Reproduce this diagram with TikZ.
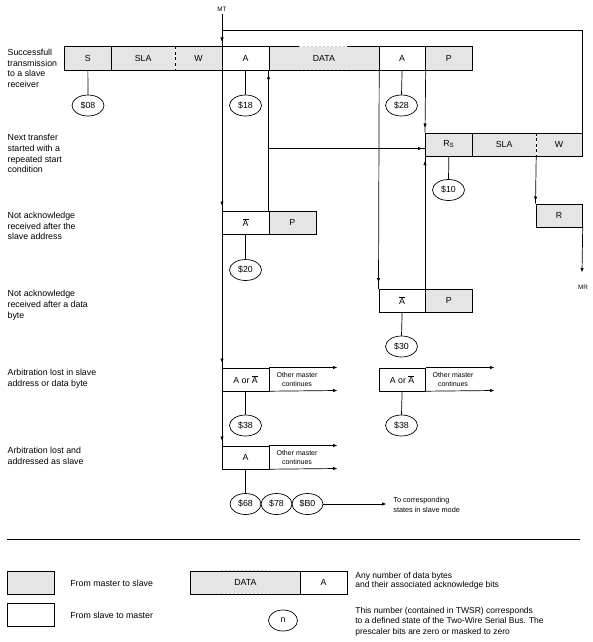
\documentclass[tikz,border=0pt]{standalone}
\usepackage{fontspec}
\setmainfont{Liberation Sans}
\usetikzlibrary{arrows.meta,decorations.markings,shapes.geometric}
\definecolor{mgray}{gray}{0.9}
\newcommand{\nA}{\ensuremath{\overline{\hbox{A}}}}
\begin{document}
\begin{tikzpicture}[x=1pt,y=-1pt,line width=0.7pt,
  cell/.style={draw, minimum height=23pt, inner sep=0pt, anchor=north west, font=\fontsize{8.8}{10}\selectfont},
  mcell/.style={cell, fill=mgray},
  st/.style={draw, ellipse, minimum width=32pt, minimum height=21pt, inner sep=0pt, font=\fontsize{8.8}{10}\selectfont},
  lbl/.style={anchor=north west, align=left, inner sep=0pt, font=\fontsize{8.8}{10.7}\selectfont},
  sm/.style={align=center, inner sep=0pt, font=\fontsize{7}{9}\selectfont},
  tiny/.style={inner sep=0pt, font=\fontsize{6.3}{7}\selectfont},
  arr/.style={-{Triangle[length=4pt,width=3pt]}},
  arrowat/.style={postaction={decorate}, decoration={markings, mark=at position #1 with {\arrow{Triangle[length=4pt,width=3pt]}}}},
  gapline/.style={white, line width=1.4pt},
  gapdash/.style={gray!40, line width=1pt, dash pattern=on 2pt off 2pt},
  divwhite/.style={white, line width=1.4pt},
  divdash/.style={dash pattern=on 3pt off 2.5pt}
]
\useasboundingbox (0,0) rectangle (593,642);

% left labels
\node[lbl] (l1) at (7.3,48.7) {Successfull\\transmission\\to a slave\\receiver};
\node[lbl] (l2) at (7.3,134) {Next transfer\\started with a\\repeated start\\condition};
\node[lbl] (l3) at (7.3,211.8) {Not acknowledge\\received after the\\slave address};
\node[lbl] (l4) at (7.3,290) {Not acknowledge\\received after a data\\byte};
\node[lbl] (l5) at (7.3,369) {Arbitration lost in slave\\address or data byte};
\node[lbl] (l6) at (7.3,446.8) {Arbitration lost and\\addressed as slave};

% row 1
\node[mcell, minimum width=47pt] (S) at (64,46.5) {S};
\node[mcell, minimum width=63.5pt] (SLA) at (111,46.5) {SLA};
\node[mcell, minimum width=47.5pt] (W) at (174.5,46.5) {W};
\node[cell, minimum width=46.5pt] (A1) at (222,46.5) {A};
\node[mcell, minimum width=110pt] (DATA) at (268.5,46.5) {DATA};
\node[cell, minimum width=46.5pt] (A2) at (378.5,46.5) {A};
\node[mcell, minimum width=47pt] (P1) at (425,46.5) {P};
\draw[divwhite] (SLA.north east) -- (SLA.south east);
\draw[divdash] (SLA.north east) -- (SLA.south east);
\coordinate (dg1) at (299,46.5); \coordinate (dg2) at (347,46.5);
\coordinate (dg3) at (299,69.5); \coordinate (dg4) at (347,69.5);
\draw[gapline] (dg1) -- (dg2); \draw[gapdash] (dg1) -- (dg2);
\draw[gapline] (dg3) -- (dg4); \draw[gapdash] (dg3) -- (dg4);

% repeated start row
\node[mcell, minimum width=47pt] (RS) at (425,132.5) {R\textsubscript{S}};
\node[mcell, minimum width=63.5pt] (SLA2) at (472,132.5) {SLA};
\node[mcell, minimum width=46.5pt] (W2) at (535.5,132.5) {W};
\draw[divwhite] (SLA2.north east) -- (SLA2.south east);
\draw[divdash] (SLA2.north east) -- (SLA2.south east);
\node[mcell, minimum width=46.5pt] (R) at (535.5,203.5) {R};

% not acknowledge rows
\node[cell, minimum width=46.5pt] (Ab1) at (222,210.5) {\nA};
\node[mcell, minimum width=47pt] (P2) at (268.5,210.5) {P};
\node[cell, minimum width=46.5pt] (Abd) at (378.5,289) {\nA};
\node[mcell, minimum width=47pt] (Pd) at (425,289) {P};

% arbitration rows
\node[cell, minimum width=46.5pt] (Arb1) at (222,367.5) {A or \nA};
\node[sm] (om1) at (297,379) {Other master\\continues};
\node[cell, minimum width=46.5pt] (Arb2) at (378.5,367.5) {A or \nA};
\node[sm] (om2) at (453,379) {Other master\\continues};
\node[cell, minimum width=46.5pt] (Arb3) at (222,445.5) {A};
\node[sm] (om3) at (297,457) {Other master\\continues};

% states
\node[st] (s08) at (88,105.5) {\$08};
\node[st] (s18) at (245.5,105.5) {\$18};
\node[st] (s28) at (401.5,105.5) {\$28};
\node[st] (s10) at (448.5,190) {\$10};
\node[st] (s20) at (245.5,270) {\$20};
\node[st] (s30) at (401.5,346.5) {\$30};
\node[st] (s38) at (245.5,425.5) {\$38};
\node[st] (s38b) at (401.5,425.5) {\$38};
\node[st, minimum width=31pt] (s68) at (245.5,504) {\$68};
\node[st, minimum width=31pt] (s78) at (276.5,504) {\$78};
\node[st, minimum width=31pt] (sB0) at (307.5,504) {\$B0};

% MT / MR
\node[tiny, inner sep=2pt] (MT) at (222,9.5) {MT};
\node[tiny] (MR) at (583,287.5) {MR};

% connectors
\coordinate (j1) at (222,30);
\draw[arrowat=-5pt] (MT.south) -- (A1.north west);
\draw (j1) -| (W2.north east);
\draw[arrowat=-5pt] (A1.south west) -- (Ab1.north west);
\draw[arrowat=-5pt] (Ab1.south west) -- (Arb1.north west);
\draw[arrowat=-5pt] (Arb1.south west) -- (Arb3.north west);
\draw[arrowat=-5pt] (P2.north west) -- (DATA.south west);
\coordinate (j2) at (268.5,148.5);
\coordinate (rsin) at (425,148.5);
\draw[arrowat=-3pt] (j2) -- (rsin);
\draw[arrowat=-5pt] (A2.south east) -- (RS.north west);
\draw[arrowat=-5pt] (Pd.north west) -- (RS.south west);
\draw[arrowat=-7pt] (DATA.south east) -- (Abd.north west);
\draw[arrowat=-3pt] (SLA2.south east) -- (R.north west);
\coordinate (mr) at (582,272);
\draw[arr] (R.south east) -- (mr);

\draw (S.south) -- (s08.north);
\draw (A1.south) -- (s18.north);
\draw (A2.south) -- (s28.north);
\draw (RS.south) -- (s10.north);
\draw (Ab1.south) -- (s20.north);
\draw (Abd.south) -- (s30.north);
\draw (Arb1.south) -- (s38.north);
\draw (Arb2.south) -- (s38b.north);
\draw (Arb3.south) -- (s68.north);

\coordinate (a1t) at (337,367.5); \coordinate (a1b) at (337,390.5);
\coordinate (a2t) at (494,367.5); \coordinate (a2b) at (494,390.5);
\coordinate (a3t) at (337,445.5); \coordinate (a3b) at (337,468.5);
\draw[arr] (Arb1.north east) -- (a1t);
\draw[arr] (Arb1.south east) -- (a1b);
\draw[arr] (Arb2.north east) -- (a2t);
\draw[arr] (Arb2.south east) -- (a2b);
\draw[arr] (Arb3.north east) -- (a3t);
\draw[arr] (Arb3.south east) -- (a3b);

\coordinate (tc) at (386,504);
\draw[arr] (sB0.east) -- (tc);
\node[sm, align=left, anchor=west, font=\fontsize{7.3}{9.5}\selectfont] (tcl) at (393,505) {To corresponding\\states in slave mode};

% legend
\coordinate (sep1) at (7,539.5); \coordinate (sep2) at (580,539.5);
\draw (sep1) -- (sep2);
\node[mcell, minimum width=47pt] (lg1) at (7.3,570.5) {};
\node[cell, minimum width=47pt] (lg2) at (7.3,602.5) {};
\node[lbl, anchor=west] (lt1) at (70,583) {From master to slave};
\node[lbl, anchor=west] (lt2) at (70,615) {From slave to master};
\node[mcell, minimum width=110pt] (lgD) at (190,570.5) {DATA};
\node[cell, minimum width=46.5pt] (lgA) at (300,570.5) {A};
\coordinate (lg3) at (221,570.5); \coordinate (lg4) at (269.5,570.5);
\coordinate (lg5) at (221,593.5); \coordinate (lg6) at (269.5,593.5);
\draw[gapline] (lg3) -- (lg4); \draw[gapdash] (lg3) -- (lg4);
\draw[gapline] (lg5) -- (lg6); \draw[gapdash] (lg5) -- (lg6);
\node[st, minimum width=29pt] (lgn) at (283,620.5) {n};
\node[lbl, font=\fontsize{8.5}{9.8}\selectfont] (lt3) at (355,571.5) {Any number of data bytes\\and their associated acknowledge bits};
\node[lbl, font=\fontsize{8.5}{10.3}\selectfont] (lt4) at (355,607) {This number (contained in TWSR) corresponds\\to a defined state of the Two-Wire Serial Bus. The\\prescaler bits are zero or masked to zero};
\end{tikzpicture}
\end{document}
